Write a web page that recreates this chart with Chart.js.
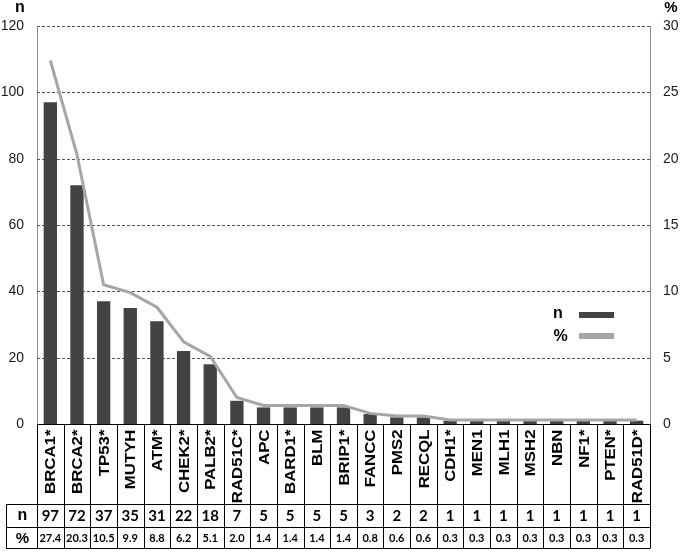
<!DOCTYPE html>
<html>
<head>
<meta charset="utf-8">
<script src="https://cdn.jsdelivr.net/npm/chart.js@4.4.1/dist/chart.umd.min.js"></script>
<style>
html,body{margin:0;padding:0;background:#fff;}
canvas{display:block;}
</style>
</head>
<body>
<canvas id="c" width="685" height="552"></canvas>
<script>
const genes = ["BRCA1*","BRCA2*","TP53*","MUTYH","ATM*","CHEK2*","PALB2*","RAD51C*","APC","BARD1*","BLM","BRIP1*","FANCC","PMS2","RECQL","CDH1*","MEN1","MLH1","MSH2","NBN","NF1*","PTEN*","RAD51D*"];
const counts = [97,72,37,35,31,22,18,7,5,5,5,5,3,2,2,1,1,1,1,1,1,1,1];
const percents = [27.4,20.3,10.5,9.9,8.8,6.2,5.1,2.0,1.4,1.4,1.4,1.4,0.8,0.6,0.6,0.3,0.3,0.3,0.3,0.3,0.3,0.3,0.3];
const percentLabels = ["27.4","20.3","10.5","9.9","8.8","6.2","5.1","2.0","1.4","1.4","1.4","1.4","0.8","0.6","0.6","0.3","0.3","0.3","0.3","0.3","0.3","0.3","0.3"];
const nTicks = [0,20,40,60,80,100,120];
const pctTicks = [0,5,10,15,20,25,30];

const BAR = '#434343';
const LINE = '#a6a6a6';

const gridPlugin = {
  id: 'gridPlugin',
  beforeDatasetsDraw(chart) {
    const ctx = chart.ctx;
    const y = chart.scales.y;
    const area = chart.chartArea;
    ctx.save();
    ctx.strokeStyle = '#555';
    ctx.lineWidth = 1;
    ctx.setLineDash([3, 2]);
    ctx.beginPath();
    nTicks.forEach(v => {
      if (v === 0) return;
      const yy = Math.round(y.getPixelForValue(v)) + 0.5;
      ctx.moveTo(area.left, yy); ctx.lineTo(area.right, yy);
    });
    ctx.stroke();
    ctx.restore();
  }
};

const tablePlugin = {
  id: 'tablePlugin',
  afterDraw(chart) {
    const ctx = chart.ctx;
    const x = chart.scales.x;
    const area = chart.chartArea;
    const n = genes.length;
    const w = (area.right - area.left) / n;
    const top = area.bottom;
    const rowN = 504, rowP = 527, bot = 548, leftEdge = 6;
    ctx.save();
    ctx.strokeStyle = '#000';
    ctx.lineWidth = 1;
    ctx.beginPath();
    ctx.moveTo(area.left, top + 0.5); ctx.lineTo(area.right, top + 0.5);
    [rowN, rowP, bot].forEach(yv => { ctx.moveTo(leftEdge, yv + 0.5); ctx.lineTo(area.right, yv + 0.5); });
    for (let i = 0; i <= n; i++) {
      const xx = Math.round(area.left + i * w) + 0.5;
      ctx.moveTo(xx, top); ctx.lineTo(xx, bot + 0.5);
    }
    ctx.moveTo(leftEdge + 0.5, rowN); ctx.lineTo(leftEdge + 0.5, bot + 0.5);
    ctx.stroke();

    ctx.fillStyle = '#000';
    ctx.font = 'bold 15px "Liberation Sans", Arial, sans-serif';
    genes.forEach((g, i) => {
      const cx = x.getPixelForValue(i);
      ctx.save();
      ctx.translate(cx + 1, 429.5);
      ctx.rotate(-Math.PI / 2);
      ctx.scale(1.12, 1);
      ctx.textAlign = 'right';
      ctx.textBaseline = 'middle';
      ctx.fillText(g, 0, 0);
      ctx.restore();
    });
    ctx.textAlign = 'center';
    ctx.textBaseline = 'middle';
    ctx.font = 'bold 15px Lato, "Open Sans", sans-serif';
    counts.forEach((v, i) => ctx.fillText(String(v), x.getPixelForValue(i), (rowN + rowP) / 2 + 1));
    ctx.font = 'bold 11px Lato, "Open Sans", sans-serif';
    percentLabels.forEach((v, i) => ctx.fillText(v, x.getPixelForValue(i), (rowP + bot) / 2 + 1));
    ctx.font = 'bold 16px "Liberation Sans", Arial, sans-serif';
    ctx.fillText('n', 22.5, (rowN + rowP) / 2);
    ctx.font = 'bold 15px "Liberation Sans", Arial, sans-serif';
    ctx.fillText('%', 22.5, (rowP + bot) / 2 + 1);

    ctx.font = 'bold 16px "Liberation Sans", Arial, sans-serif';
    ctx.fillText('n', 20, 8);
    ctx.font = 'bold 15px "Liberation Sans", Arial, sans-serif';
    ctx.fillText('%', 671, 8);

    ctx.font = 'bold 16px "Liberation Sans", Arial, sans-serif';
    ctx.fillText('n', 558, 314);
    ctx.fillText('%', 560.5, 337);
    ctx.fillStyle = BAR;
    ctx.fillRect(579, 312, 35, 6);
    ctx.fillStyle = LINE;
    ctx.fillRect(579, 333, 35, 6);
    ctx.restore();
  }
};

new Chart(document.getElementById('c'), {
  data: {
    labels: genes,
    datasets: [
      {
        type: 'line',
        label: '%',
        data: percents,
        yAxisID: 'y2',
        borderColor: LINE,
        borderWidth: 3,
        pointRadius: 0,
        tension: 0,
        fill: false,
        order: 0
      },
      {
        type: 'bar',
        label: 'n',
        data: counts,
        yAxisID: 'y',
        backgroundColor: BAR,
        barPercentage: 0.5,
        categoryPercentage: 1.0,
        order: 1
      }
    ]
  },
  options: {
    responsive: false,
    animation: false,
    layout: { padding: { top: 26, bottom: 128, left: 0, right: 0 } },
    plugins: { legend: { display: false }, tooltip: { enabled: false } },
    scales: {
      x: { type: 'category', display: false, offset: true },
      y: {
        position: 'left',
        min: 0, max: 120,
        afterBuildTicks: s => { s.ticks = nTicks.map(v => ({ value: v })); },
        afterFit: s => { s.width = 37; },
        ticks: { padding: 13, color: '#1a1a1a', font: { family: '"Liberation Sans", Arial, sans-serif', size: 14 } },
        grid: { display: false, drawTicks: false },
        border: { display: true, color: '#8a8a8a', width: 1 }
      },
      y2: {
        position: 'right',
        min: 0, max: 30,
        afterBuildTicks: s => { s.ticks = pctTicks.map(v => ({ value: v })); },
        afterFit: s => { s.width = 35; },
        ticks: { padding: 13, color: '#1a1a1a', font: { family: '"Liberation Sans", Arial, sans-serif', size: 14 } },
        grid: { display: false, drawTicks: false },
        border: { display: true, color: '#8a8a8a', width: 1 }
      }
    }
  },
  plugins: [gridPlugin, tablePlugin]
});
</script>
</body>
</html>
